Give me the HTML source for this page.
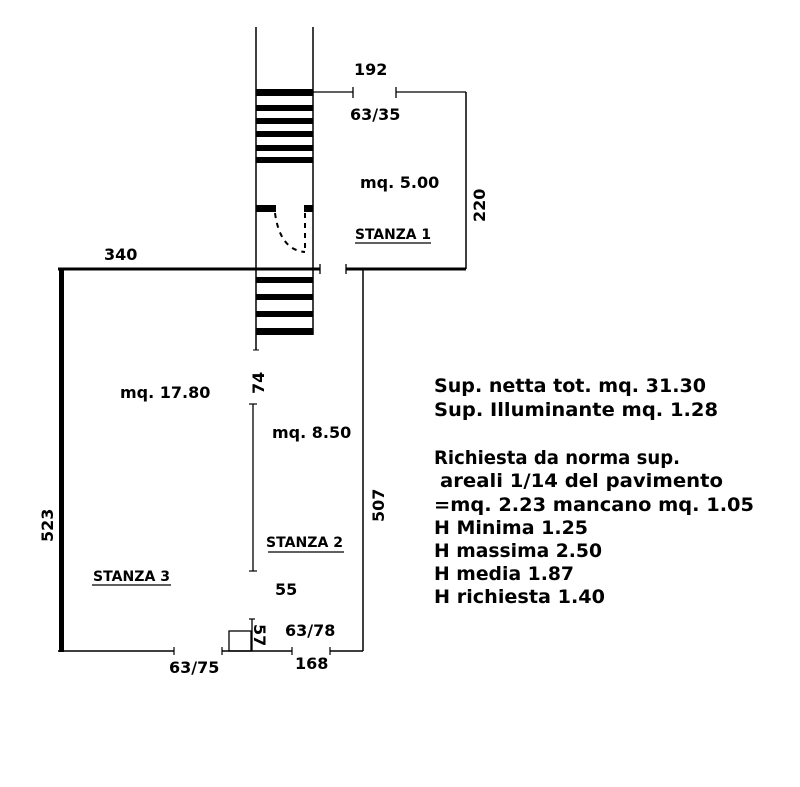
<!DOCTYPE html>
<html><head><meta charset="utf-8"><style>
html,body{margin:0;padding:0;background:#fff;}
svg{display:block;}
text{font-family:"DejaVu Sans","Liberation Sans",sans-serif;font-weight:bold;fill:#000;}
</style></head><body>
<svg width="800" height="787" viewBox="0 0 800 787" xmlns="http://www.w3.org/2000/svg">
<rect width="800" height="787" fill="#fff"/>
<g stroke="#000" fill="none">
<line x1="256" y1="27" x2="256" y2="350" stroke-width="1.5"/>
<line x1="313" y1="27" x2="313" y2="335" stroke-width="1.5"/>
<line x1="253" y1="350" x2="259" y2="350" stroke-width="1"/>
<line x1="313" y1="92" x2="353" y2="92" stroke-width="1.3"/>
<line x1="353" y1="87" x2="353" y2="98" stroke-width="1.3"/>
<line x1="396" y1="87" x2="396" y2="98" stroke-width="1.3"/>
<line x1="396" y1="92" x2="466" y2="92" stroke-width="1.3"/>
<line x1="466" y1="92" x2="466" y2="269" stroke-width="1.5"/>
<line x1="58" y1="269" x2="320" y2="269" stroke-width="3"/>
<line x1="320" y1="264" x2="320" y2="274" stroke-width="1.3"/>
<line x1="346" y1="269" x2="466" y2="269" stroke-width="3"/>
<line x1="346" y1="264" x2="346" y2="274" stroke-width="1.3"/>
<line x1="363" y1="269" x2="363" y2="651" stroke-width="1.5"/>
<line x1="61.5" y1="268" x2="61.5" y2="652" stroke-width="5"/>
<line x1="58" y1="651" x2="174" y2="651" stroke-width="1.5"/>
<line x1="174" y1="647" x2="174" y2="655" stroke-width="1.2"/>
<line x1="222" y1="651" x2="292" y2="651" stroke-width="1.5"/>
<line x1="222" y1="647" x2="222" y2="655" stroke-width="1.2"/>
<line x1="292" y1="647" x2="292" y2="655" stroke-width="1.2"/>
<line x1="330" y1="651" x2="363" y2="651" stroke-width="1.5"/>
<line x1="330" y1="647" x2="330" y2="655" stroke-width="1.2"/>
<rect x="229" y="631" width="22" height="20" stroke-width="1.3"/>
<line x1="252" y1="619" x2="252" y2="651" stroke-width="1.3"/>
<line x1="249" y1="619" x2="255" y2="619" stroke-width="1.2"/>
<line x1="253" y1="404" x2="253" y2="571" stroke-width="1.3"/>
<line x1="249" y1="404" x2="257" y2="404" stroke-width="1.2"/>
<line x1="249" y1="571" x2="257" y2="571" stroke-width="1.2"/>
<path d="M275 213 Q280 250 305 252" stroke-width="2" stroke-dasharray="5,5"/>
<line x1="305" y1="213" x2="305" y2="252" stroke-width="2" stroke-dasharray="5,5"/>
<line x1="355" y1="243" x2="431" y2="243" stroke-width="1.3"/>
<line x1="268" y1="552" x2="344" y2="552" stroke-width="1.3"/>
<line x1="92" y1="585" x2="171" y2="585" stroke-width="1.3"/>
</g>
<g fill="#000">
<rect x="256" y="89" width="57" height="7"/>
<rect x="256" y="105" width="57" height="6"/>
<rect x="256" y="118" width="57" height="6"/>
<rect x="256" y="131" width="57" height="6"/>
<rect x="256" y="145" width="57" height="6"/>
<rect x="256" y="157" width="57" height="6"/>
<rect x="256" y="277" width="57" height="6"/>
<rect x="256" y="294" width="57" height="6"/>
<rect x="256" y="311" width="57" height="6"/>
<rect x="256" y="328" width="57" height="7"/>
<rect x="256" y="205" width="20" height="7"/>
<rect x="304" y="205" width="9" height="7"/>
</g>
<g font-size="16">
<text x="354" y="75">192</text>
<text x="350" y="120">63/35</text>
<text x="360" y="188">mq. 5.00</text>
<text x="104" y="260">340</text>
<text x="120" y="398">mq. 17.80</text>
<text x="272" y="438">mq. 8.50</text>
<text x="275" y="595">55</text>
<text x="285" y="636">63/78</text>
<text x="169" y="673">63/75</text>
<text x="295" y="669">168</text>
<text transform="translate(485,222) rotate(-90)">220</text>
<text transform="translate(264,394) rotate(-90)">74</text>
<text transform="translate(384,522) rotate(-90)">507</text>
<text transform="translate(53,542) rotate(-90)">523</text>
<text transform="translate(254,624) rotate(90)">57</text>
</g>
<g font-size="13.8">
<text x="355" y="239" textLength="76" lengthAdjust="spacingAndGlyphs">STANZA 1</text>
<text x="266" y="547" textLength="77" lengthAdjust="spacingAndGlyphs">STANZA 2</text>
<text x="93" y="581" textLength="77" lengthAdjust="spacingAndGlyphs">STANZA 3</text>
</g>
<g font-size="19">
<text x="434" y="392" textLength="272" lengthAdjust="spacingAndGlyphs">Sup. netta tot. mq. 31.30</text>
<text x="434" y="416" textLength="284" lengthAdjust="spacingAndGlyphs">Sup. Illuminante mq. 1.28</text>
<text x="434" y="464" textLength="246" lengthAdjust="spacingAndGlyphs">Richiesta da norma sup.</text>
<text x="440" y="487" textLength="283" lengthAdjust="spacingAndGlyphs">areali 1/14 del pavimento</text>
<text x="434" y="511" textLength="320" lengthAdjust="spacingAndGlyphs">=mq. 2.23 mancano mq. 1.05</text>
<text x="434" y="534" textLength="154" lengthAdjust="spacingAndGlyphs">H Minima 1.25</text>
<text x="434" y="557" textLength="168" lengthAdjust="spacingAndGlyphs">H massima 2.50</text>
<text x="434" y="580" textLength="140" lengthAdjust="spacingAndGlyphs">H media 1.87</text>
<text x="434" y="603" textLength="171" lengthAdjust="spacingAndGlyphs">H richiesta 1.40</text>
</g>
</svg>
</body></html>
